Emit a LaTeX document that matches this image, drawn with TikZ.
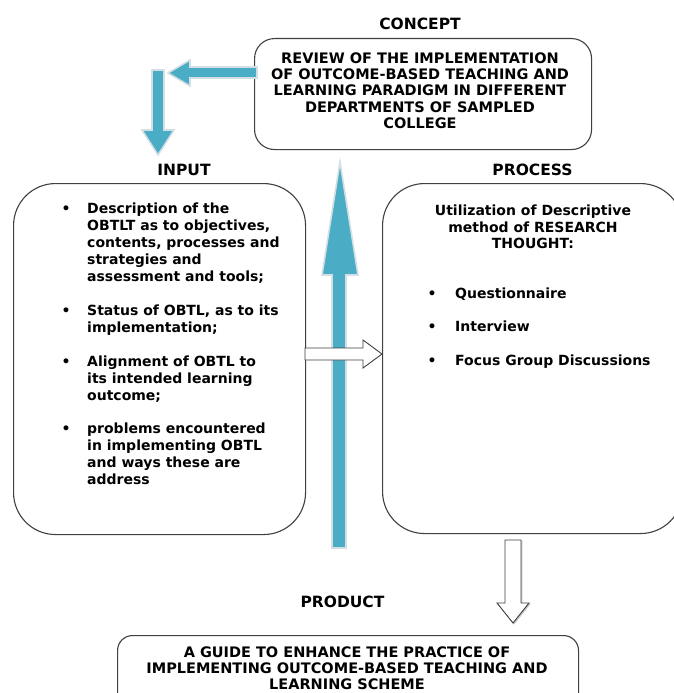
\documentclass[tikz,border=0pt]{standalone}
\usepackage{fontspec}
\setmainfont{DejaVu Sans}
\definecolor{aqua}{HTML}{4BACC6}
\definecolor{aquaedge}{HTML}{D3DFE4}
\definecolor{boxline}{HTML}{404040}
\definecolor{shade}{HTML}{C8C8C8}
\begin{document}
\begin{tikzpicture}[x=1pt,y=-1pt,
  box/.style={draw=boxline, line width=1.1pt, fill=white, inner sep=0pt, anchor=north west},
  txt/.style={inner sep=0pt, font=\bfseries\fontsize{14}{17}\selectfont},
  captxt/.style={inner sep=0pt, font=\bfseries\fontsize{14.5}{16.25}\selectfont},
  lbl/.style={inner sep=0pt, anchor=base, font=\bfseries\fontsize{15.5}{18}\selectfont},
  bul/.style={inner sep=0pt, anchor=base, font=\bfseries\fontsize{14}{17}\selectfont},
  bluearrow/.style={fill=aqua, draw=aquaedge, line width=1.6pt, line join=miter},
  whitearrow/.style={fill=white, draw=boxline, line width=0.9pt, line join=miter},
  arrowshade/.style={fill=shade, draw=shade, line width=0.9pt}
]
\useasboundingbox (0,0) rectangle (674,693);

% ---- boxes
\node[box, rounded corners=20pt, minimum width=337pt, minimum height=111pt] (concept) at (254,38) {};
\node[box, rounded corners=42pt, minimum width=292pt, minimum height=351pt] (in) at (13,183) {};
\node[box, rounded corners=42pt, minimum width=300pt, minimum height=350pt] (proc) at (382,183) {};
\node[box, rounded corners=15pt, minimum width=461pt, minimum height=90pt] (prod) at (117,635) {};

% ---- labels
\node[lbl] (lconcept) at (420,30) {CONCEPT};
\node[lbl] (linput) at (184,175) {INPUT};
\node[lbl] (lprocess) at (532.5,175) {PROCESS};
\node[lbl] (lproduct) at (342.5,607.3) {PRODUCT};

% ---- blue arrows
\draw[bluearrow] (257,67) -- (190,67) -- (190,60) -- (168,73) -- (190,86) -- (190,78) -- (257,78) -- cycle;
\draw[bluearrow] (152,70) -- (152,130) -- (142,130) -- (158,155) -- (174,130) -- (164,130) -- (164,70) -- cycle;
\draw[bluearrow] (332,548) -- (332,275) -- (322,275) -- (340,162) -- (358,275) -- (346,275) -- (346,548) -- cycle;

% ---- white block arrows
\draw[whitearrow] (305,348) -- (363,348) -- (363,340) -- (382,354) -- (363,368) -- (363,360) -- (305,360) -- cycle;
\draw[arrowshade] (506,541) -- (506,604) -- (498,604) -- (514,624) -- (530,604) -- (522,604) -- (522,541) -- cycle;
\draw[whitearrow] (505,540) -- (505,603) -- (497,603) -- (513,623) -- (529,603) -- (521,603) -- (521,540) -- cycle;

% ---- concept text
\node[captxt, anchor=base] (tconcept) at (420,63.3) {\parbox[t]{330pt}{\centering
REVIEW OF THE IMPLEMENTATION\\
OF OUTCOME-BASED TEACHING AND\\
LEARNING PARADIGM IN DIFFERENT\\
DEPARTMENTS OF SAMPLED\\
COLLEGE}};

% ---- input list
\node[bul] (b1) at (66,213) {\textbullet};
\node[txt, anchor=base west] (i1) at (87,213) {\parbox[t]{215pt}{\raggedright
Description of the\\
OBTLT as to objectives,\\
contents, processes and\\
strategies and\\
assessment and tools;}};
\node[bul] (b2) at (66,315) {\textbullet};
\node[txt, anchor=base west] (i2) at (87,315) {\parbox[t]{215pt}{\raggedright
Status of OBTL, as to its\\
implementation;}};
\node[bul] (b3) at (66,366.5) {\textbullet};
\node[txt, anchor=base west] (i3) at (87,366.5) {\parbox[t]{215pt}{\raggedright
Alignment of OBTL to\\
its intended learning\\
outcome;}};
\node[bul] (b4) at (66,433.5) {\textbullet};
\node[txt, anchor=base west] (i4) at (87,433.5) {\parbox[t]{215pt}{\raggedright
problems encountered\\
in implementing OBTL\\
and ways these are\\
address}};

% ---- process text
\node[txt, anchor=base] (p0) at (533,215.5) {\parbox[t]{260pt}{\centering\baselineskip=16.5pt
Utilization of Descriptive\\
method of RESEARCH\\
THOUGHT:}};
\node[bul] (pb1) at (432,298.3) {\textbullet};
\node[txt, anchor=base west] (p1) at (455,298.3) {Questionnaire};
\node[bul] (pb2) at (432,331.7) {\textbullet};
\node[txt, anchor=base west] (p2) at (455,331.7) {Interview};
\node[bul] (pb3) at (432,365) {\textbullet};
\node[txt, anchor=base west] (p3) at (455,365) {Focus Group Discussions};

% ---- product text
\node[captxt, anchor=base] (tprod) at (347,657.3) {\parbox[t]{450pt}{\centering\baselineskip=16pt
A GUIDE TO ENHANCE THE PRACTICE OF\\
IMPLEMENTING OUTCOME-BASED TEACHING AND\\
LEARNING SCHEME}};
\end{tikzpicture}
\end{document}
